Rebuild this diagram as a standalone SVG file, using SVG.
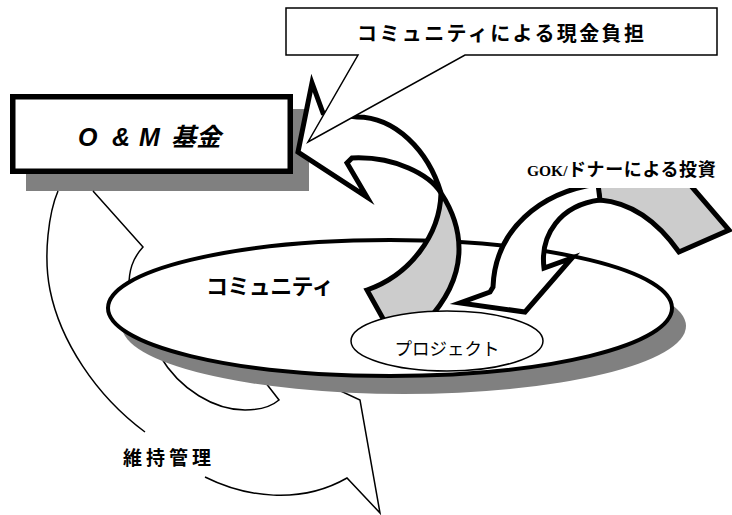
<svg xmlns="http://www.w3.org/2000/svg" width="732" height="515" viewBox="0 0 732 515">
<style>
.jp{font-family:"Noto Sans CJK JP","Noto Sans",sans-serif;fill:#000}
.b{font-weight:bold}
.thin{fill:none;stroke:#000;stroke-width:1.5}
.arr{stroke:#000;stroke-width:5;stroke-linejoin:miter;stroke-miterlimit:6}
.shadow{fill:#808080}
</style>
<rect width="732" height="515" fill="#fff"/>

<g id="om-fund">
  <rect class="shadow" x="26" y="109" width="283" height="82"/>
  <rect x="12.75" y="96.75" width="277.5" height="74.5" fill="#fff" stroke="#000" stroke-width="5.5"/>
  <text y="146" font-size="25" font-weight="bold" font-style="italic" font-family="'Liberation Sans','Noto Sans CJK JP',sans-serif"><tspan x="78">O</tspan><tspan x="112">&amp;</tspan><tspan x="139">M</tspan><tspan x="171">基金</tspan></text>
</g>

<g id="maintenance">
  <path class="thin" d="M58,191 C49,212 43,255 50,290 C60,340 95,395 145,432"/>
  <path class="thin" d="M93,191 L143,247 C133,258 128,270 129,292"/>
  <path class="thin" d="M160,356 C180,390 215,410 245,410 C262,410 272,406 279,400 L262,378"/>
  <path class="thin" d="M205,477 C245,497 300,505 347,478 L380,513 L360,400 L330,386"/>
  <text class="jp b" x="123" y="465" font-size="19" letter-spacing="4">維持管理</text>
</g>

<g id="community">
  <ellipse class="shadow" cx="404" cy="326" rx="282" ry="68"/>
  <ellipse cx="390" cy="308" rx="282" ry="68" fill="#fff" stroke="#000" stroke-width="4"/>
  <text class="jp b" x="206" y="294" font-size="22" letter-spacing="-0.6">コミュニティ</text>
</g>

<g id="connectors">
  <g id="arrow-community-to-fund">
    <path class="arr" fill="#ccc" d="M441,193 C460,222 475,270 426,322 L386,324 L367,290 C410,275 440,235 441,193 Z"/>
    <path class="arr" fill="#fff" d="M298,152 L312,83 L323,113 L357,117 C395,117 428,150 441,193 C430,175 395,156 352,158 L347,163 L367,197 Z"/>
  </g>
  <g id="arrow-gok-to-project">
    <path class="arr" fill="#ccc" stroke-width="4.5" d="M596,180 L686,180 L729,230 L679,252 C660,225 635,203 600,200 Z"/>
    <path class="arr" fill="#fff" stroke-width="4.5" d="M598,184 C540,192 495,230 493,287 L490,292 L460,303 L525,312 L572,258 L544,268 C540,235 560,205 600,200 Z"/>
  </g>
</g>

<g id="project">
  <ellipse cx="447" cy="341" rx="96" ry="30" fill="#fff" stroke="#000" stroke-width="1.5"/>
  <text class="jp" x="447" y="355" font-size="17.5" text-anchor="middle">プロジェクト</text>
</g>

<g id="cash-callout">
  <path d="M286,8 H717 V55 H465 L308,142 L358,55 H286 Z" fill="#fff" stroke="#000" stroke-width="1.5" stroke-linejoin="miter"/>
  <text class="jp b" x="357" y="41" font-size="20" letter-spacing="2.4">コミュニティによる現金負担</text>
</g>

<g id="gok-label">
  <rect x="522" y="148" width="210" height="40" fill="#fff"/>
  <text y="176" font-weight="bold"><tspan x="527" font-size="15.5" font-family="'Liberation Serif',serif">GOK/</tspan><tspan x="568" font-size="18" letter-spacing="0.6" font-family="'Noto Sans CJK JP',sans-serif">ドナーによる投資</tspan></text>
</g>
</svg>
